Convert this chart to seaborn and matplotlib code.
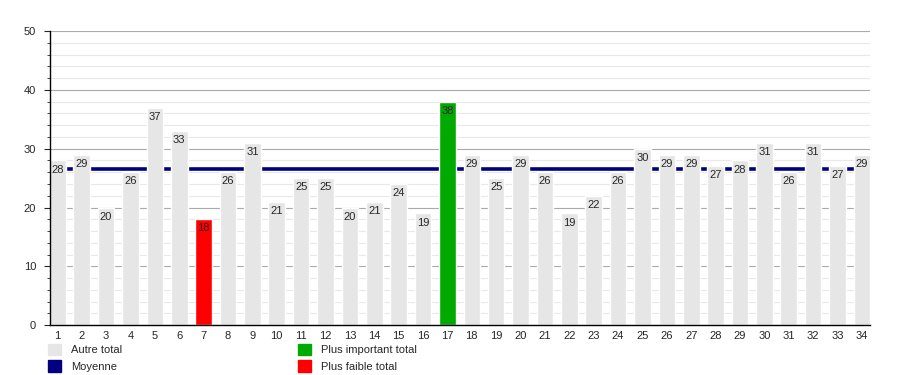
import matplotlib
matplotlib.use('Agg')
import matplotlib.pyplot as plt
import matplotlib.patches as mpatches
from matplotlib.ticker import MultipleLocator
import seaborn as sns
import pandas as pd

# données du graphique
rangs = [str(i) for i in range(1, 35)]
totaux = [28, 29, 20, 26, 37, 33, 18, 26, 31, 21, 25, 25, 20, 21, 24, 19, 38,
          29, 25, 29, 26, 19, 22, 26, 30, 29, 29, 27, 28, 31, 26, 31, 27, 29]
libelles = ['Autre total', 'Moyenne', 'Plus important total', 'Plus faible total']

gris, bleu, vert, rouge = '#e6e6e6', '#000080', '#00aa00', '#ff0000'

df = pd.DataFrame({'rang': rangs, 'total': totaux})
moyenne = sum(totaux) / len(totaux)
couleurs = []
for v in totaux:
    if v == max(totaux):
        couleurs.append(vert)
    elif v == min(totaux):
        couleurs.append(rouge)
    else:
        couleurs.append(gris)

sns.set_style('white')
plt.rcParams['font.family'] = ['Liberation Sans', 'DejaVu Sans']

fig = plt.figure(figsize=(9, 3.75), dpi=100)
ax = fig.add_axes([0.0556, 0.133, 0.911, 0.784])

sns.barplot(data=df, x='rang', y='total', hue='rang', palette=couleurs,
            legend=False, width=0.68, saturation=1, ax=ax)
for p in ax.patches:
    p.set_zorder(3)
ax.axhline(moyenne, color=bleu, lw=2.6, zorder=2)

for i, v in enumerate(totaux):
    ax.text(i, v - 0.7, str(v), ha='center', va='top', fontsize=8, zorder=4)

ax.set_ylim(0, 50)
ax.set_xlim(-0.3, len(totaux) - 0.67)
ax.yaxis.set_major_locator(MultipleLocator(10))
ax.yaxis.set_minor_locator(MultipleLocator(2))
ax.grid(axis='y', which='major', color='#aaaaaa', lw=0.8)
ax.grid(axis='y', which='minor', color='#e8e8e8', lw=0.8)
ax.set_axisbelow(True)
for s in ['top', 'right']:
    ax.spines[s].set_visible(False)
for s in ['left', 'bottom']:
    ax.spines[s].set_color('black')
    ax.spines[s].set_linewidth(1)
    ax.spines[s].set_zorder(5)
ax.tick_params(axis='y', which='major', left=True, length=4, width=0.8, labelsize=8, pad=6)
ax.tick_params(axis='y', which='minor', left=True, length=2, width=0.6)
ax.tick_params(axis='x', bottom=False, labelsize=8, pad=0.5)
ax.set_xlabel('')
ax.set_ylabel('')

h1 = [mpatches.Patch(color=gris), mpatches.Patch(color=bleu)]
h2 = [mpatches.Patch(color=vert), mpatches.Patch(color=rouge)]
kw = dict(frameon=False, fontsize=8, handlelength=1.2, handleheight=1.2,
          handletextpad=0.9, labelspacing=0.45, borderpad=0, borderaxespad=0)
fig.legend(h1, libelles[:2], loc='upper left', bbox_to_anchor=(0.053, 0.083), **kw)
fig.legend(h2, libelles[2:], loc='upper left', bbox_to_anchor=(0.331, 0.083), **kw)

fig.savefig('out.png', dpi=100)
